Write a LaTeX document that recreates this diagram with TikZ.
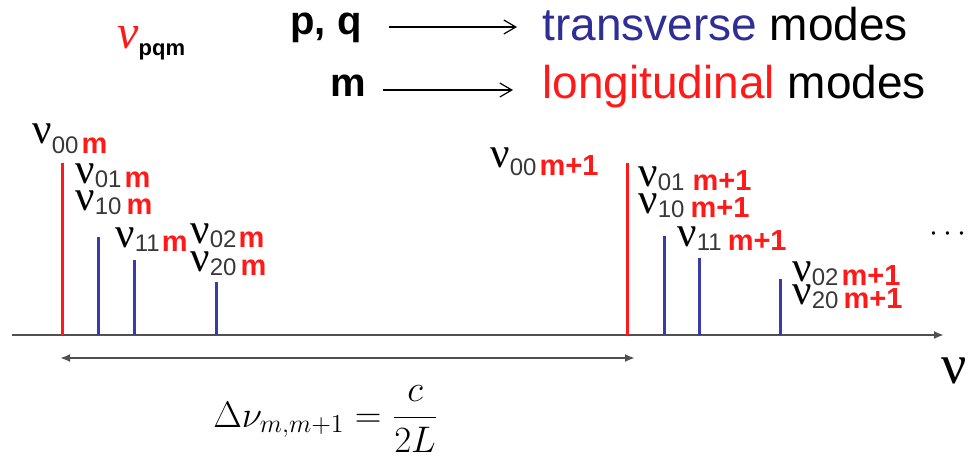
\documentclass[tikz,border=0pt]{standalone}
\usepackage{fix-cm}
\usepackage{fontspec}
\setsansfont{Liberation Sans}
\newfontfamily\nufont{Liberation Serif}
\usetikzlibrary{arrows.meta}
\definecolor{modered}{HTML}{FF1A1A}
\definecolor{modeblue}{HTML}{3A3AA8}
\definecolor{textblue}{HTML}{2E2E96}
\definecolor{axisgray}{HTML}{505050}
\definecolor{subgray}{HTML}{383838}
% nu_{pq} label with red mode order: [raise of nu]{pq}{order}{gap}
\newcommand{\nulab}[4][2pt]{\raisebox{#1}{\fontsize{21.5}{21.5}\nufont ν}{\fontsize{12}{12}\sffamily\color{subgray}#2}\hspace{#4}{\fontsize{14.5}{14.5}\sffamily\bfseries\color{modered}#3}}

\begin{document}
\begin{tikzpicture}[x=0.5pt, y=-0.5pt,
  longline/.style={draw=modered, line width=1.5pt},
  transline/.style={draw=modeblue, line width=1.5pt},
  lab/.style={anchor=base west, inner sep=0pt},
  keytext/.style={anchor=base west, inner sep=0pt, font=\fontsize{20}{20}\sffamily\bfseries},
  bigtext/.style={anchor=base west, inner sep=0pt, font=\fontsize{23}{23}\sffamily},
  pointer/.style={-{Straight Barb[length=6pt,width=7pt]}, line width=0.6pt},
  axis/.style={-{Latex[length=5pt,width=4pt]}, draw=axisgray, line width=1pt},
  span/.style={{Latex[length=5pt,width=4pt]}-{Latex[length=5pt,width=4pt]}, draw=axisgray, line width=1pt}
]
\useasboundingbox (0,0) rectangle (971,457);

% legend
\node[lab, text=modered] (nupqm) at (117,48) {{\fontsize{24}{24}\nufont\itshape ν}\raisebox{-3.5pt}{\fontsize{11}{11}\sffamily\bfseries\color{black}pqm}};
\node[keytext] (pq) at (290,34) {p, q};
\node[keytext] (m) at (330,96) {m};
\node[bigtext] (trans) at (542,40) {\color{textblue}transverse \color{black}modes};
\node[bigtext] (long) at (542,98) {\color{modered}longitudinal \color{black}modes};
\draw[pointer] ([xshift=13.5pt,yshift=3.5pt]pq.base east) -- ([xshift=-12.5pt,yshift=6.5pt]trans.base west);
\draw[pointer] ([xshift=8.5pt,yshift=3pt]m.base east) -- ([xshift=-14.5pt,yshift=4pt]long.base west);

% frequency axis
\coordinate (ax0) at (12,335);
\coordinate (ax1) at (944,335);
\draw[axis] (ax0) -- (ax1);
\node[lab] (nuaxis) at (941,383) {\fontsize{28}{28}\nufont ν};
\node[lab] (dots) at (929,241) {\fontsize{16}{16}\selectfont$\cdots$};

% mode lines
\foreach \x in {62,627}
  \draw[longline] (\x,335) -- (\x,163);
\foreach \x/\h in {98/237, 134/260, 216/282, 664/236, 699/258, 780/279}
  \draw[transline] (\x,335) -- (\x,\h);

% labels, order m
\node[lab] (l00m) at (32,153) {\nulab[5pt]{00}{m}{1.5pt}};
\node[lab] (l01m) at (75,187) {\nulab{01}{m}{1.5pt}};
\node[lab] (l10m) at (75,214) {\nulab{10}{m}{2.5pt}};
\node[lab] (l11m) at (115,251) {\nulab{11}{m}{1pt}};
\node[lab] (l02m) at (190,247) {\nulab{02}{m}{1pt}};
\node[lab] (l20m) at (190,275) {\nulab{20}{m}{2pt}};

% labels, order m+1
\node[lab] (l00n) at (490,175) {\nulab[4pt]{00}{m+1}{1.5pt}};
\node[lab] (l01n) at (638,190) {\nulab{01}{m+1}{4pt}};
\node[lab] (l10n) at (638,217) {\nulab{10}{m+1}{3pt}};
\node[lab] (l11n) at (677,250) {\nulab{11}{m+1}{3pt}};
\node[lab] (l02n) at (792,285) {\nulab{02}{m+1}{1.5pt}};
\node[lab] (l20n) at (792,308) {\nulab{20}{m+1}{2.5pt}};

% free spectral range
\coordinate (fsr0) at (60,358);
\coordinate (fsr1) at (635,358);
\draw[span] (fsr0) -- (fsr1);
\node[lab] (fsr) at (213,427) {\fontsize{18.5}{22}\selectfont$\displaystyle \Delta\nu_{m,m+1}=\frac{c}{2L}$};
\end{tikzpicture}
\end{document}
